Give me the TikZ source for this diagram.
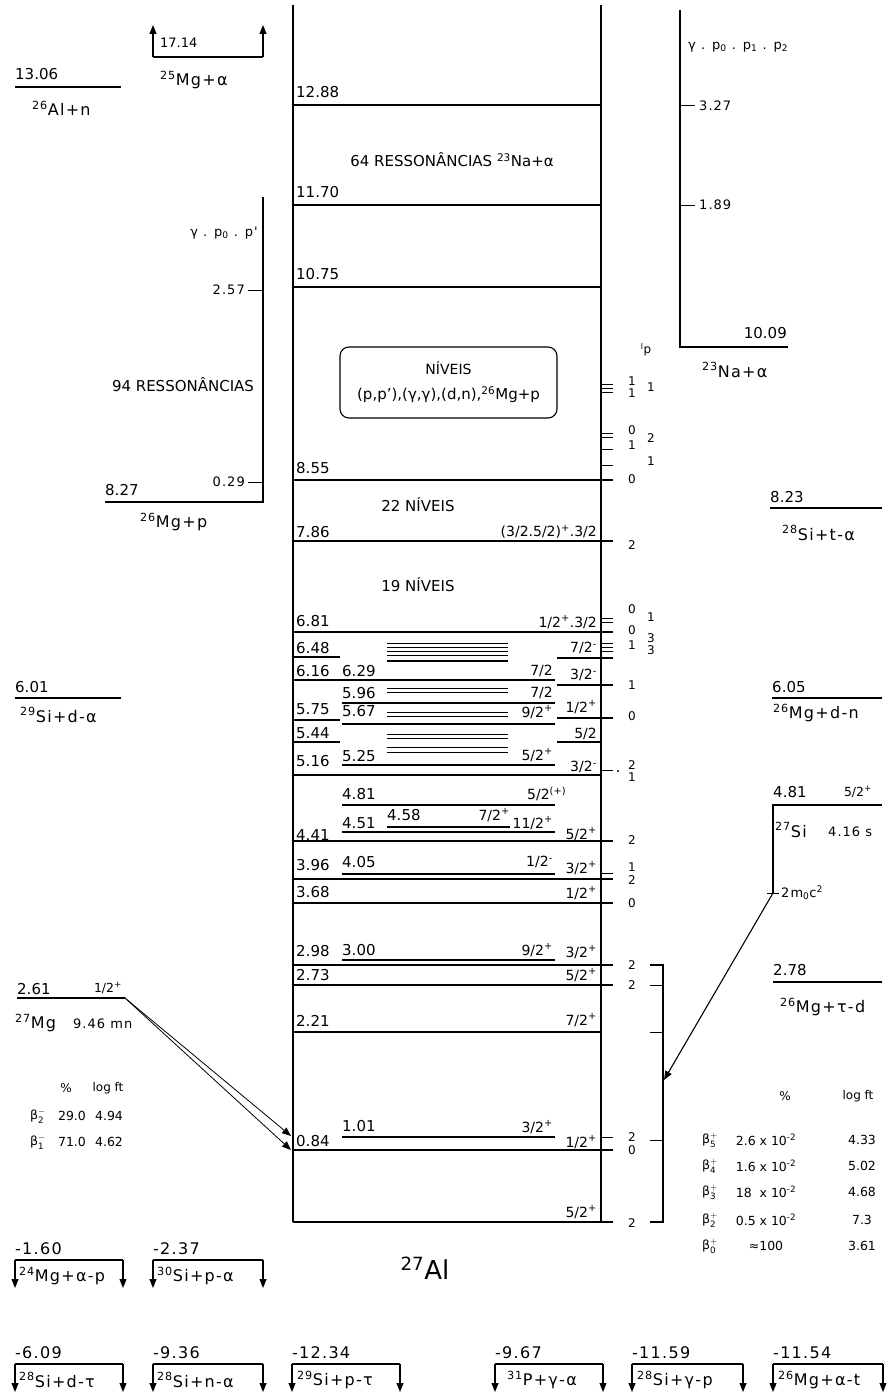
\documentclass[tikz,border=0pt]{standalone}
\usepackage{fontspec}
\setmainfont{DejaVu Sans}
\newfontfamily\wide{DejaVu Sans}[LetterSpace=8]
\usetikzlibrary{arrows.meta}
\newcommand\usp[1]{\textsuperscript{#1}}
\newcommand\usb[1]{\textsubscript{#1}}
\newcommand\bt[2]{β$^{\mathrm{#1}}_{\mathrm{#2}}$}
\tikzset{
 lv/.style={line width=1.1pt},
 tk/.style={line width=1pt},
 hatchl/.style={line width=0.8pt},
 enl/.style={font=\fontsize{15}{16}\selectfont, inner sep=0pt, anchor=west},
 spn/.style={font=\fontsize{14}{15}\selectfont, inner sep=0pt, anchor=east},
 tl/.style={font=\fontsize{12}{13}\selectfont, inner sep=0pt},
 tb/.style={font=\fontsize{12.5}{13}\selectfont, inner sep=0pt},
 sm/.style={font=\wide\fontsize{13}{14}\selectfont, inner sep=0pt},
 rx/.style={font=\wide\fontsize{16}{17}\selectfont, inner sep=0pt, anchor=west},
 md/.style={font=\fontsize{15}{16}\selectfont, inner sep=0pt},
 arr/.style={line width=1.1pt, -{Triangle[length=9pt,width=7pt]}},
}
\newcommand\rxnb[7]{%
 \coordinate (#1l) at (#2,#4); \coordinate (#1r) at (#3,#4);
 \coordinate (#1lt) at (#2,#4+28); \coordinate (#1rt) at (#3,#4+28);
 \draw[lv] (#1l) -- (#1r);
 \draw[arr] (#1l) -- (#1lt); \draw[arr] (#1r) -- (#1rt);
 \node[rx] (#1v) at (#2,#4-11) {#5};
 \node[rx] (#1n) at (#2+#7,#4+16) {#6};
}
\begin{document}
\begin{tikzpicture}[x=1pt,y=-1pt]
\useasboundingbox (0,0) rectangle (890,1399);
% main box
\draw[lv] (293,5) -- (293,1222);
\draw[lv] (601,5) -- (601,1222);
% full-width levels
\foreach \y/\xe in {105/601,205/601,287/601,480/613,541/613,632/613,775/601,841/613,879/613,903/613,965/613,985/613,1032/601,1150/613,1222/613}
  \draw[lv] (293,\y) -- (\xe,\y);
% partial levels
\foreach \y/\xa/\xb in {657/293/340, 658/557/613, 680/293/555, 685/557/613, 703/342/555, 720/293/340, 724/342/555, 718/557/613, 742/293/340, 742/557/601, 765/342/555, 805/342/555, 827/387/510, 832/342/555, 874/342/555, 960/342/555, 1137/342/555}
  \draw[lv] (\xa,\y) -- (\xb,\y);
% right ticks
\foreach \y in {384,388,392,433,437,449,465,618,622,643,647,651,770,873,1137}
  \draw[tk] (601,\y) -- (613,\y);
\fill (618,771) circle (1.2pt);
% hatched groups
\foreach \y in {643,647,651,655,688,692,712,716,734,738,747,752}
  \draw[hatchl] (387,\y) -- (508,\y);
\draw[line width=2.2pt] (387,661) -- (508,661);
% box
\draw[rounded corners=9pt, line width=1.1pt] (340,347) rectangle (557,418);
\node[font=\fontsize{14}{15}\selectfont, inner sep=0pt] (nbt) at (448.5,368) {NÍVEIS};
\node[font=\fontsize{15}{16}\selectfont, inner sep=0pt] (nbs) at (448.5,395) {(p,p'),(γ,γ),(d,n),\usp{26}Mg+p};
% centre texts
\node[md] (res64) at (452,160) {64 RESSONÂNCIAS \usp{23}Na+α};
\node[md] (n22) at (418,505) {22 NÍVEIS};
\node[md] (n19) at (418,585) {19 NÍVEIS};
\node[font=\fontsize{26}{28}\selectfont, inner sep=0pt] (al27) at (425,1268) {\usp{27}Al};
% energy labels, outer column
\foreach \y/\t [count=\i] in {92/12.88,192/11.70,274/10.75,468/8.55,532/7.86,621/6.81,648/6.48,671/6.16,709/5.75,733/5.44,761/5.16,835/4.41,865/3.96,892/3.68,951/2.98,975/2.73,1021/2.21,1141/0.84}
  \node[enl] (eo\i) at (296,\y) {\t};
% energy labels, inner column
\foreach \y/\t [count=\i] in {671/6.29,693/5.96,711/5.67,756/5.25,794/4.81,823/4.51,862/4.05,950/3.00,1126/1.01}
  \node[enl] (ei\i) at (342,\y) {\t};
\node[enl] (e458) at (387,815) {4.58};
% spins, outer column
\foreach \y/\t [count=\i] in {532/{(3/2.5/2)\usp{+}.3/2},622/{1/2\usp{+}.3/2},648/{7/2\usp{-}},675/{3/2\usp{-}},707/{1/2\usp{+}},734/{5/2},767/{3/2\usp{-}},834/{5/2\usp{+}},868/{3/2\usp{+}},893/{1/2\usp{+}},952/{3/2\usp{+}},975/{5/2\usp{+}},1020/{7/2\usp{+}},1142/{1/2\usp{+}},1212/{5/2\usp{+}}}
  \node[spn] (so\i) at (597,\y) {\t};
% spins, inner column
\foreach \y/\t [count=\i] in {671/{7/2},693/{7/2},712/{9/2\usp{+}},755/{5/2\usp{+}},823/{11/2\usp{+}},862/{1/2\usp{-}},950/{9/2\usp{+}},1127/{3/2\usp{+}}}
  \node[spn] (si\i) at (553,\y) {\t};
\node[spn, anchor=west] (s481) at (527,794) {5/2\usp{(+)}};
\node[spn] (s458) at (510,815) {7/2\usp{+}};
% right small labels (l_p)
\node[tl] (lp) at (646,350) {\usp{l}p};
\foreach \x/\y/\t [count=\i] in {632/381/1,632/393/1,651/387/1,632/430/0,632/445/1,651/438/2,651/461/1,632/479/0,632/545/2,632/609/0,651/617/1,632/630/0,632/645/1,651/638/3,651/650/3,632/685/1,632/716/0,632/765/2,632/777/1,632/840/2,632/867/1,632/880/2,632/903/0,632/965/2,632/985/2,632/1137/2,632/1150/0,632/1223/2}
  \node[tl] (lpn\i) at (\x,\y) {\t};
% right bracket
\draw[lv] (650,965) -- (663,965) -- (663,1222) -- (650,1222);
\foreach \y in {985,1032,1140} \draw[tk] (650,\y) -- (663,\y);
% top left: 13.06
\draw[lv] (15,87) -- (121,87);
\node[enl] (t1306) at (15,74) {13.06};
\node[rx] (r26al) at (32,108) {\usp{26}Al+n};
% 17.14
\coordinate (ua) at (153,57); \coordinate (ub) at (263,57);
\coordinate (uat) at (153,25); \coordinate (ubt) at (263,25);
\draw[lv] (ua) -- (ub);
\draw[arr] (ua) -- (uat); \draw[arr] (ub) -- (ubt);
\node[font=\fontsize{13}{14}\selectfont, inner sep=0pt, anchor=west] (t1714) at (160,43) {17.14};
\node[rx] (r25mg) at (160,80) {\usp{25}Mg+α};
% 26Mg+p
\draw[lv] (263,197) -- (263,502) -- (105,502);
\draw[tk] (248,290) -- (263,290);
\draw[tk] (248,482) -- (263,482);
\node[sm, anchor=east] (gp0) at (258,233) {γ . p\usb{0} . p'};
\node[sm, anchor=east] (t257) at (245,290) {2.57};
\node[md] (res94) at (183,385) {94 RESSONÂNCIAS};
\node[sm, anchor=east] (t029) at (245,482) {0.29};
\node[enl] (t827) at (105,490) {8.27};
\node[rx] (r26mgp) at (140,522) {\usp{26}Mg+p};
% 6.01
\draw[lv] (15,698) -- (121,698);
\node[enl] (t601) at (15,687) {6.01};
\node[rx] (r29si) at (20,715) {\usp{29}Si+d-α};
% 27Mg decay
\draw[lv] (17,998) -- (125,998);
\coordinate (mgk) at (125,998);
\coordinate (mga) at (291,1136);
\coordinate (mgb) at (291,1150);
\draw[arr, line width=0.8pt] (mgk) -- (mga);
\draw[arr, line width=0.8pt] (mgk) -- (mgb);
\node[enl] (t261) at (17,989) {2.61};
\node[tb] (j261) at (108,988) {1/2\usp{+}};
\node[rx] (r27mg) at (15,1023) {\usp{27}Mg};
\node[sm, anchor=west] (hl1) at (73,1024) {9.46 mn};
\node[tl] (lhp) at (66,1088) {\%};
\node[tl] (lhl) at (108,1088) {log ft};
\node[tb] (lb2) at (38,1116) {\bt{-}{2}};
\node[tb] (lv2) at (72,1116) {29.0};
\node[tb] (lf2) at (109,1116) {4.94};
\node[tb] (lb1) at (38,1142) {\bt{-}{1}};
\node[tb] (lv1) at (72,1142) {71.0};
\node[tb] (lf1) at (109,1142) {4.62};
% 23Na+alpha
\draw[lv] (680,10) -- (680,347) -- (788,347);
\draw[tk] (680,106) -- (695,106);
\draw[tk] (680,205) -- (695,205);
\node[sm, anchor=west] (gp012) at (688,47) {γ . p\usb{0} . p\usb{1} . p\usb{2}};
\node[sm, anchor=west] (t327) at (699,106) {3.27};
\node[sm, anchor=west] (t189) at (699,205) {1.89};
\node[enl, anchor=east] (t1009) at (787,333) {10.09};
\node[rx] (r23na) at (702,370) {\usp{23}Na+α};
% right thresholds
\draw[lv] (770,508) -- (882,508);
\node[enl] (t823) at (770,497) {8.23};
\node[rx] (r28sit) at (782,533) {\usp{28}Si+t-α};
\draw[lv] (772,698) -- (882,698);
\node[enl] (t605) at (772,687) {6.05};
\node[rx] (r26mgdn) at (773,713) {\usp{26}Mg+d-n};
% 27Si decay
\draw[lv] (882,805) -- (773,805) -- (773,893);
\draw[tk] (767,893) -- (779,893);
\coordinate (pc) at (773,893);
\coordinate (pe) at (664,1080);
\draw[arr] (pc) -- (pe);
\node[enl] (t481r) at (773,792) {4.81};
\node[tb] (j481r) at (858,792) {5/2\usp{+}};
\node[rx] (r27si) at (775,830) {\usp{27}Si};
\node[sm, anchor=west] (hl2) at (828,832) {4.16 s};
\node[sm, anchor=west] (mc2) at (781,893) {2m\usb{0}c\usp{2}};
\draw[lv] (773,982) -- (882,982);
\node[enl] (t278) at (773,970) {2.78};
\node[rx] (r26mgtd) at (780,1007) {\usp{26}Mg+τ-d};
% right table
\node[tl] (rhp) at (785,1096) {\%};
\node[tl] (rhl) at (858,1096) {log ft};
\foreach \y/\b/\v/\f [count=\i] in {1140/5/{2.6 x 10\usp{-2}}/4.33,1166/4/{1.6 x 10\usp{-2}}/5.02,1192/3/{18\ \ x 10\usp{-2}}/4.68,1220/2/{0.5 x 10\usp{-2}}/7.3,1246/0/{≈100}/3.61}
{
  \node[tb] (rb\i) at (710,\y) {\bt{+}{\b}};
  \node[tb] (rv\i) at (766,\y) {\v};
  \node[tb] (rf\i) at (862,\y) {\f};
}
% bottom reactions
\rxnb{ra}{15}{123}{1260}{-1.60}{\usp{24}Mg+α-p}{4}
\rxnb{rb}{153}{263}{1260}{-2.37}{\usp{30}Si+p-α}{4}
\rxnb{rc}{15}{123}{1364}{-6.09}{\usp{28}Si+d-τ}{4}
\rxnb{rd}{153}{263}{1364}{-9.36}{\usp{28}Si+n-α}{4}
\rxnb{re}{292}{400}{1364}{-12.34}{\usp{29}Si+p-τ}{5}
\rxnb{rf}{495}{603}{1364}{-9.67}{\usp{31}P+γ-α}{12}
\rxnb{rg}{632}{743}{1364}{-11.59}{\usp{28}Si+γ-p}{5}
\rxnb{rh}{773}{883}{1364}{-11.54}{\usp{26}Mg+α-t}{5}
\end{tikzpicture}
\end{document}
